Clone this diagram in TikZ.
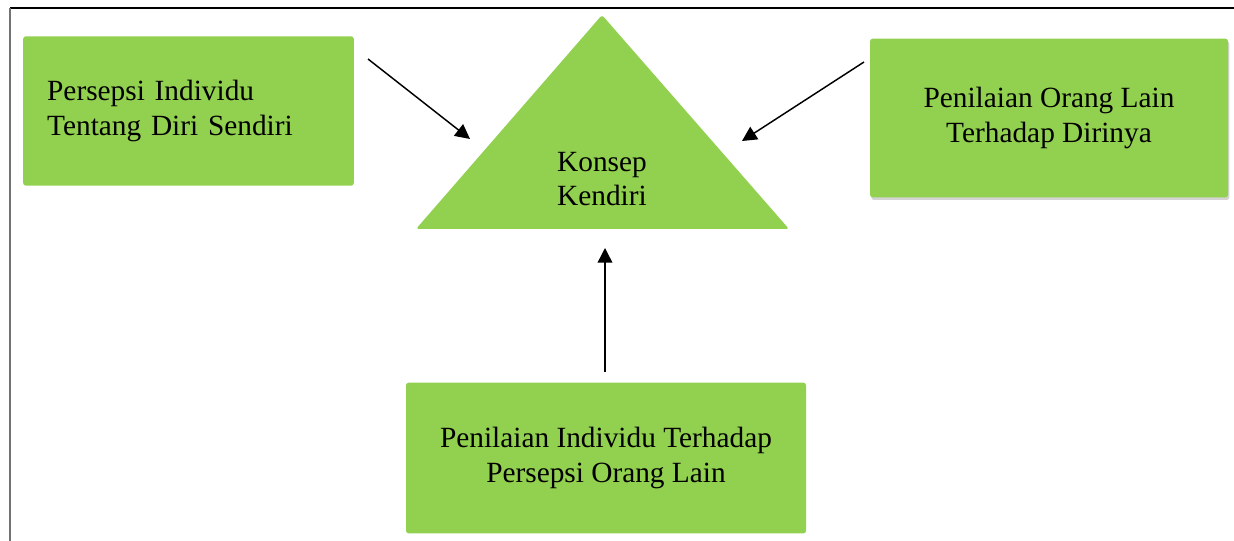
\documentclass[tikz,border=0pt]{standalone}
\usepackage{fontspec}
\setmainfont{Liberation Serif}
\usetikzlibrary{arrows.meta,shadows,positioning}
\definecolor{boxgreen}{HTML}{92D050}
\tikzset{x=0.75pt, y=-0.75pt, % one unit is one pixel of the page, y runs down
>={Triangle[length=11pt,width=11pt]}, % makes the arrow heads filled triangles
box/.style={fill=boxgreen, rounded corners=2pt, font=\fontsize{22}{26}\selectfont}, % sets the properties for each green box
link/.style={->, line width=1.1pt}, % the arrows into the triangle
}

\begin{document}
\begin{tikzpicture}
\useasboundingbox (0,0) rectangle (1234,541);
\draw[line width=1pt] (10,8) -- (1234,8);
\draw[line width=1.5pt, black!55] (10,8) -- (10,541);
% the triangle in the middle
\fill[boxgreen, rounded corners=2pt] (416,229) -- (602,15) -- (789,229) -- cycle;
\node[align=center, font=\fontsize{22}{25}\selectfont] (kd) at (602,179) {Konsep\\Kendiri};
% the three boxes
\node[box, minimum width=248pt, minimum height=112pt, text width=212pt, inner xsep=18pt, align=left] (pid) at (188.5,111) {Persepsi Individu\\Tentang Diri Sendiri};
\node[box, minimum width=268.5pt, minimum height=119pt, align=center, drop shadow={shadow xshift=1pt, shadow yshift=-2pt, opacity=0.35}] (pol) at (1049,118) {Penilaian Orang Lain\\Terhadap Dirinya};
\node[box, minimum width=300pt, minimum height=113pt, align=center] (pio) at (606,458) {Penilaian Individu Terhadap\\Persepsi Orang Lain};
% ends of the arrows
\coordinate (pid-out) at (368,59);
\coordinate (kd-l) at (470,139);
\coordinate (pol-out) at (864,62);
\coordinate (kd-r) at (742,141);
\coordinate (pio-out) at (605,372);
\coordinate (kd-b) at (605,248);
\draw[link] (pid-out) -- (kd-l);
\draw[link] (pol-out) -- (kd-r);
\draw[link] (pio-out) -- (kd-b);
\end{tikzpicture}
\end{document}
